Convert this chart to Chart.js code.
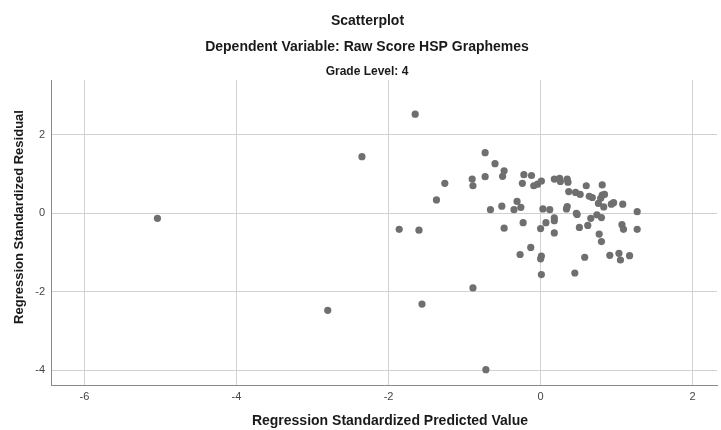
<!DOCTYPE html>
<html>
<head>
<meta charset="utf-8">
<title>Scatterplot</title>
<script src="https://cdn.jsdelivr.net/npm/chart.js@4/dist/chart.umd.min.js"></script>
<style>
  html, body { margin: 0; padding: 0; background: #fff; }
  #wrap { width: 721px; height: 430px; }
</style>
</head>
<body>
<div id="wrap"><canvas id="residChart" width="721" height="430"></canvas></div>
<script>
// regression standardized predicted value (x) and residual (y), one entry per case
const predicted = [
  -5.04, -2.80, -2.35, -1.65, -1.86, -1.60, -1.56, -1.37, -1.26, -0.89, -0.72,
  -0.73, -0.60, -0.48, -0.50, -0.73, -0.90, -0.89,
  -0.22, -0.12, -0.24, -0.09, -0.04, 0.01, 0.18, 0.25, 0.26, 0.35, 0.36, 0.37, 0.46,
  0.52, 0.60, 0.81, 0.64, 0.68, 0.81, 0.84, 0.79, 0.76, 0.83, 0.93, 0.96, 1.08, 1.27,
  -0.31, -0.51, -0.66, -0.35, -0.26, 0.03, 0.12, 0.35, 0.34, 0.47, 0.48, 0.74, 0.80,
  0.66, 0.18, 0.18, 0.07, -0.23, -0.48, 0.00, 0.18, 0.51, 0.62, 1.07, 1.09, 1.27,
  0.77, 0.80, -0.13, -0.27, 0.01, 0.00, 0.58, 0.91, 1.03, 1.05, 1.17, 0.01, 0.45
];
const residual = [
  -0.13, -2.47, 1.44, 2.52, -0.41, -0.43, -2.31, 0.34, 0.76, -1.90, -3.98,
  1.54, 1.26, 1.08, 0.94, 0.93, 0.87, 0.70,
  0.98, 0.96, 0.76, 0.70, 0.74, 0.82, 0.87, 0.89, 0.81, 0.87, 0.79, 0.55, 0.53,
  0.48, 0.70, 0.72, 0.43, 0.40, 0.46, 0.48, 0.38, 0.25, 0.16, 0.23, 0.27, 0.23, 0.04,
  0.30, 0.18, 0.09, 0.09, 0.15, 0.11, 0.09, 0.17, 0.11, 0.00, -0.03, -0.04, -0.11,
  -0.13, -0.12, -0.19, -0.24, -0.24, -0.38, -0.39, -0.50, -0.36, -0.31, -0.29, -0.41, -0.41,
  -0.53, -0.72, -0.87, -1.05, -1.09, -1.16, -1.12, -1.07, -1.02, -1.19, -1.08, -1.56, -1.52
];

const xTicks = [-6, -4, -2, 0, 2];
const yTicks = [-4, -2, 0, 2];

const chartTitle = "Scatterplot";
const subTitle = "Dependent Variable: Raw Score HSP Graphemes";
const splitLabel = "Grade Level: 4";
const xTitle = "Regression Standardized Predicted Value";
const yTitle = "Regression Standardized Residual";

const FONT = "'Liberation Sans', Arial, sans-serif";

const points = predicted.map((x, i) => ({ x: x, y: residual[i] }));

// headings and axis titles, drawn straight onto the canvas
const headings = {
  id: "headings",
  afterDraw(chart) {
    const c = chart.ctx;
    c.save();
    c.fillStyle = "#1a1a1a";
    c.textAlign = "center";
    c.textBaseline = "middle";
    c.font = "bold 14px " + FONT;
    c.fillText(chartTitle, 367.5, 21);
    c.fillText(subTitle, 367, 47);
    c.font = "bold 12px " + FONT;
    c.fillText(splitLabel, 367, 71.5);
    c.font = "bold 14px " + FONT;
    c.fillText(xTitle, 390, 421);
    c.translate(19, 217);
    c.rotate(-Math.PI / 2);
    c.font = "bold 13px " + FONT;
    c.fillText(yTitle, 0, 0);
    c.restore();
  }
};

const ctx = document.getElementById("residChart").getContext("2d");

const residChart = new Chart(ctx, {
  type: "scatter",
  data: {
    datasets: [{
      data: points,
      backgroundColor: "#6f6f6f",
      borderColor: "#6f6f6f",
      borderWidth: 0,
      pointRadius: 3.6
    }]
  },
  options: {
    responsive: false,
    animation: false,
    layout: { padding: { top: 80, right: 0, bottom: 0, left: 0 } },
    plugins: {
      legend: { display: false },
      tooltip: { enabled: false }
    },
    scales: {
      x: {
        type: "linear",
        min: -6.44,
        max: 2.32,
        afterBuildTicks: (s) => { s.ticks = xTicks.map(v => ({ value: v })); },
        afterFit: (s) => { s.height = 45; },
        ticks: {
          includeBounds: false,
          padding: 5,
          color: "#444",
          font: { family: FONT, size: 11 }
        },
        grid: { color: "#d2d2d2", lineWidth: 1, drawTicks: false },
        border: { color: "#8a8a8a", width: 1 }
      },
      y: {
        type: "linear",
        min: -4.37,
        max: 3.39,
        afterBuildTicks: (s) => { s.ticks = yTicks.map(v => ({ value: v })); },
        afterFit: (s) => { s.width = 51; },
        ticks: {
          includeBounds: false,
          padding: 6,
          color: "#444",
          font: { family: FONT, size: 11 }
        },
        grid: { color: "#d2d2d2", lineWidth: 1, drawTicks: false },
        border: { color: "#8a8a8a", width: 1 }
      }
    }
  },
  plugins: [headings]
});
</script>
</body>
</html>
